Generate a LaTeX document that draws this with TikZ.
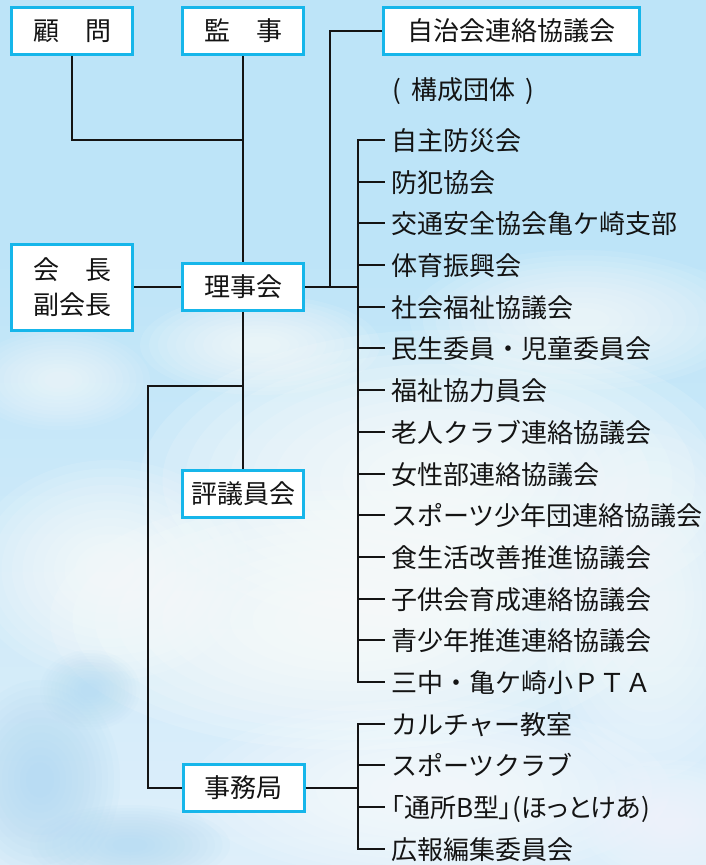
\documentclass[tikz,border=0pt]{standalone}
\usepackage{fontspec}
\setmainfont{Noto Sans CJK JP}
\newfontfamily\paltfont[RawFeature=+palt]{Noto Sans CJK JP}
\definecolor{sky}{RGB}{189,228,248}
\definecolor{skylow}{RGB}{222,239,250}
\definecolor{skypatch}{RGB}{172,215,243}
\definecolor{boxcyan}{RGB}{22,182,234}
\definecolor{ink}{RGB}{20,20,20}
\newcommand{\fs}{\fontsize{26pt}{35pt}\selectfont}
\newcommand{\mycloud}[6]{%
  \foreach \k in {0,...,11}{%
    \pgfmathsetmacro{\rxx}{#3*(1-0.075*\k)}%
    \pgfmathsetmacro{\ryy}{#4*(1-0.075*\k)}%
    \fill[#5, opacity=#6] (#1,#2) ellipse ({\rxx pt} and {\ryy pt});}}
\tikzset{
  box/.style={draw=boxcyan, line width=3pt, fill=white, minimum width=121pt,
    minimum height=47pt, inner sep=0pt, font=\fs, text=ink, align=center},
  conn/.style={draw=ink, line width=2pt},
  item/.style={anchor=west, inner sep=0pt, text height=23pt, text depth=3pt,
    font=\fs, text=ink}
}
\begin{document}
\begin{tikzpicture}[x=1pt,y=-1pt]
\useasboundingbox (0,0) rectangle (706,865);
% background sky
\fill[sky] (0,0) rectangle (706,240);
\shade[top color=sky, bottom color=skylow] (0,240) rectangle (706,865);
\mycloud{580}{320}{170}{70}{white}{0.09}
\mycloud{260}{345}{120}{50}{white}{0.09}
\mycloud{60}{380}{90}{50}{white}{0.07}
\mycloud{440}{480}{300}{150}{white}{0.13}
\mycloud{350}{620}{300}{130}{white}{0.13}
\mycloud{650}{600}{110}{180}{white}{0.09}
\mycloud{110}{570}{140}{110}{white}{0.1}
\mycloud{430}{790}{240}{90}{white}{0.1}
\mycloud{670}{820}{90}{60}{white}{0.07}
\mycloud{40}{780}{80}{100}{skypatch}{0.08}
\mycloud{130}{845}{100}{40}{skypatch}{0.07}
\mycloud{90}{690}{50}{40}{skypatch}{0.06}

% boxes
\node[box] (komon) at (72,31) {顧　問};
\node[box] (kanji) at (243,31) {監　事};
\node[box, minimum width=256pt] (jichi) at (511.5,31) {自治会連絡協議会};
\node[box, minimum height=86pt] (kaicho) at (72,287) {会　長\\副会長};
\node[box] (riji) at (243,287) {理事会};
\node[box] (hyogi) at (243,494) {評議員会};
\node[box] (jimu) at (243.5,788) {事務局};

\node[item] (kosei) at (392,89) {(\hspace{0.4em}構成団体\hspace{0.4em})};

% items
\foreach \t [count=\i from 0] in {自主防災会,防犯協会,交通安全協会亀ケ崎支部,体育振興会,
  社会福祉協議会,民生委員・児童委員会,福祉協力員会,老人クラブ連絡協議会,
  女性部連絡協議会,スポーツ少年団連絡協議会,食生活改善推進協議会,
  子供会育成連絡協議会,青少年推進連絡協議会,三中・亀ケ崎小ＰＴＡ,
  カルチャー教室,スポーツクラブ,{\paltfont 「通所B型」(ほっとけあ)},広報編集委員会}{
  \pgfmathsetmacro{\yy}{round(140+41.7*\i)}
  \node[item] (it\i) at (391,\yy) {\t};
}

% connectors
\coordinate (j1) at (243,140);
\coordinate (j2) at (330,287);
\coordinate (j3) at (243,386);
\coordinate (bx) at (358,287);
\coordinate (lx) at (148,400);
\draw[conn] (komon.south) |- (j1);
\draw[conn] (kanji.south) -- (riji.north);
\draw[conn] (kaicho.east) -- (riji.west);
\draw[conn] (riji.east) -- (riji.east -| bx);
\draw[conn] (j2) |- (jichi.west);
\draw[conn] (riji.south) -- (hyogi.north);
\draw[conn] (j3) -| (lx |- jimu.west) -- (jimu.west);
\draw[conn] (jimu.east) -- (jimu.east -| bx);

\draw[conn] ([xshift=-6pt]it0.west) -| (bx |- it13.west) -- ([xshift=-6pt]it13.west);
\foreach \i in {1,...,12}{\draw[conn] (bx |- it\i.west) -- ([xshift=-6pt]it\i.west);}
\draw[conn] ([xshift=-6pt]it14.west) -| (bx |- it17.west) -- ([xshift=-6pt]it17.west);
\foreach \i in {15,16}{\draw[conn] (bx |- it\i.west) -- ([xshift=-6pt]it\i.west);}
\end{tikzpicture}
\end{document}
